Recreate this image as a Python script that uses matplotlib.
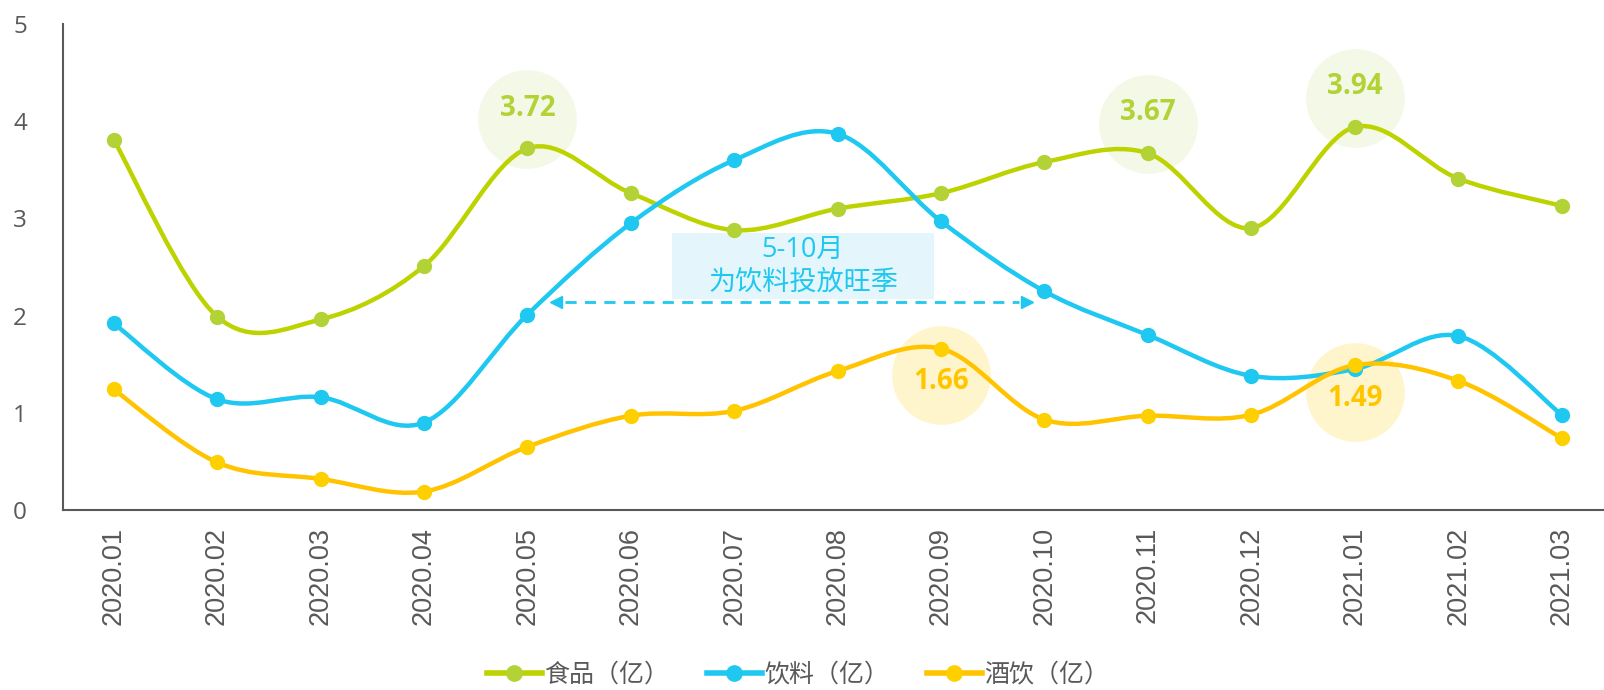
import matplotlib
matplotlib.use("Agg")
import matplotlib.pyplot as plt
from matplotlib.path import Path
from matplotlib.patches import PathPatch, Rectangle
from matplotlib.lines import Line2D
import numpy as np

plt.rcParams['font.family'] = ['Open Sans', 'Noto Sans CJK SC', 'DejaVu Sans']

months = ["2020.01", "2020.02", "2020.03", "2020.04", "2020.05", "2020.06", "2020.07",
          "2020.08", "2020.09", "2020.10", "2020.11", "2020.12", "2021.01", "2021.02", "2021.03"]
food = [3.81, 1.99, 1.96, 2.51, 3.72, 3.26, 2.88, 3.10, 3.26, 3.58, 3.67, 2.90, 3.94, 3.41, 3.13]
drink = [1.92, 1.14, 1.16, 0.90, 2.01, 2.95, 3.60, 3.87, 2.97, 2.25, 1.80, 1.38, 1.45, 1.79, 0.98]
liquor = [1.24, 0.49, 0.32, 0.19, 0.65, 0.97, 1.02, 1.43, 1.66, 0.93, 0.97, 0.98, 1.49, 1.33, 0.74]
series_names = ["食品（亿）", "饮料（亿）", "酒饮（亿）"]

# highlighted labels: (series index, point index, above?)
highlights = [(0, 4, True), (0, 10, True), (0, 12, True), (2, 8, False), (2, 12, False)]
note_lines = ["5-10月", "为饮料投放旺季"]
season_start, season_end = 4.28, 8.83

line_colors = ["#BDD300", "#1EC8F0", "#FFC300"]
marker_colors = ["#B3D236", "#1EC8F0", "#FFD000"]
circle_colors = ["#F4F8E6", None, "#FFF5CC"]
label_colors = ["#B2D235", None, "#FFC600"]
grey = "#595959"

fig = plt.figure(figsize=(16.04, 6.9), dpi=100)
ax = fig.add_axes([63/1604, 1-510/690, 1-63/1604, (510-24)/690])

def smooth_path(xs, ys):
    P = np.column_stack([xs, ys]).astype(float)
    n = len(P)
    verts = [P[0]]
    codes = [Path.MOVETO]
    for i in range(n-1):
        p0 = P[i-1] if i > 0 else P[i]
        p1 = P[i]
        p2 = P[i+1]
        p3 = P[i+2] if i+2 < n else P[i+1]
        c1 = p1 + (p2 - p0) / 6.0
        c2 = p2 - (p3 - p1) / 6.0
        verts += [c1, c2, p2]
        codes += [Path.CURVE4]*3
    return Path(verts, codes)

x = np.arange(len(months))
all_series = [food, drink, liquor]
for k, vals in enumerate(all_series):
    patch = PathPatch(smooth_path(x, vals), fill=False, edgecolor=line_colors[k],
                      lw=3.2, zorder=3, capstyle='round', joinstyle='round')
    ax.add_patch(patch)
    ax.plot(x, vals, 'o', color=marker_colors[k], markersize=10, zorder=4)

for k, i, above in highlights:
    v = all_series[k][i]
    cy = 21 if above else -19
    ty = 29 if above else -24
    ax.plot([i], [v], 'o', markersize=70, color=circle_colors[k], zorder=1,
            transform=ax.transData + matplotlib.transforms.ScaledTranslation(0, cy/72, fig.dpi_scale_trans))
    ax.annotate(f"{v:.2f}", xy=(i, v), xytext=(0, ty), textcoords='offset points',
                ha='center', va='center', fontsize=20, fontweight='bold',
                color=label_colors[k], zorder=6)

# note box
ax.add_patch(Rectangle((5.40, 2.17), 2.53, 0.68, facecolor="#E4F6FC", edgecolor='none', zorder=2))
ax.text(6.665, 2.68, note_lines[0], ha='center', va='center', fontsize=19.5, color="#1EC8F0", zorder=5)
ax.text(6.665, 2.34, note_lines[1], ha='center', va='center', fontsize=19.5, color="#1EC8F0", zorder=5)
ax.plot([season_start + 0.08, season_end - 0.08], [2.14, 2.14], color="#1EC8F0", lw=2,
        dashes=(4, 3), zorder=5)
ax.plot([season_start], [2.14], marker='<', color="#1EC8F0", markersize=9, zorder=5)
ax.plot([season_end], [2.14], marker='>', color="#1EC8F0", markersize=9, zorder=5)

ax.set_xlim(-0.49, 14.41)
ax.set_ylim(0, 5)
ax.set_xticks(x)
ax.set_xticklabels(months, rotation=90, fontsize=19.5, color=grey, family=['Liberation Sans'])
ax.set_yticks([0, 1, 2, 3, 4, 5])
ax.set_yticklabels(["0", "1", "2", "3", "4", "5"], fontsize=17.5, color=grey)
ax.tick_params(axis='x', length=0, pad=12)
ax.tick_params(axis='y', length=0, pad=26)
for s in ['top', 'right']:
    ax.spines[s].set_visible(False)
for s in ['left', 'bottom']:
    ax.spines[s].set_color(grey)
    ax.spines[s].set_linewidth(1.5)

handles = [Line2D([], [], color=line_colors[k], lw=4, marker='o', markersize=11,
                  markerfacecolor=marker_colors[k], markeredgecolor=marker_colors[k])
           for k in range(3)]
leg = fig.legend(handles, series_names, loc='center', bbox_to_anchor=(0.4975, 0.022),
                 ncol=3, frameon=False, fontsize=18, handlelength=2.2, handletextpad=0.1,
                 columnspacing=1.5, labelcolor=grey)

fig.savefig("out.png", dpi=100)
